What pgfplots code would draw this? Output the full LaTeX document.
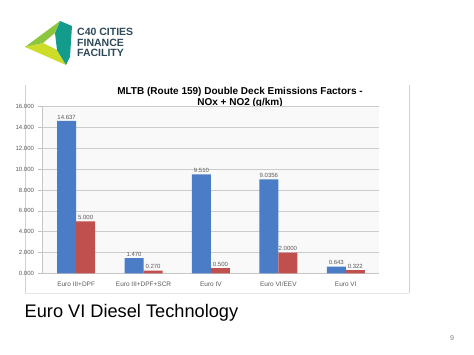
\documentclass[border=0pt]{standalone}
\usepackage{pgfplots}
\pgfplotsset{compat=1.18}
\usepackage{fontspec}
\setmainfont{Liberation Sans}
\definecolor{barblue}{HTML}{4A7DC6}
\definecolor{barred}{HTML}{C0504D}
\definecolor{logotext}{HTML}{2E4A5A}
\definecolor{lgreen}{HTML}{8CC63F}
\definecolor{lyellow}{HTML}{CDDC29}
\definecolor{lteal}{HTML}{139B8C}
\begin{document}
\begin{tikzpicture}[x=1pt,y=1pt]
\useasboundingbox (0,0) rectangle (474,355);
\fill[white] (0,0) rectangle (474,355);
% logo
\fill[lyellow] (25,308) -- (66,290) -- (57,305) -- (43,312) -- cycle;
\fill[lteal] (60,334) -- (72,329) -- (70,298) -- (66,290) -- (57,305) -- (55,322) -- cycle;
\fill[lgreen] (25,308) -- (60,334) -- (55,322) -- (43,312) -- cycle;
\node[anchor=west, text=logotext, font=\bfseries\fontsize{10.5}{10.5}\selectfont, align=left, inner sep=0] at (77,312.5) {C40 CITIES\\[-0.3pt]FINANCE\\[-0.3pt]FACILITY};
% chart panel
\draw[gray!35, line width=0.6pt] (25,62) -- (25,270);
\draw[gray!35, line width=0.6pt] (409,62) -- (409,270);
\draw[gray!20, line width=0.6pt] (25,62) -- (409,62);
% title
\node[font=\bfseries\fontsize{10}{11}\selectfont, align=center] at (240,257.5) {MLTB (Route 159) Double Deck Emissions Factors -\\NOx + NO2 (g/km)};
\begin{axis}[
  at={(63,78.3)}, anchor=south west, scale only axis,
  width=337pt, height=166.7pt,
  ymin=0, ymax=16, xmin=-0.5, xmax=4.5,
  ytick={0,2,...,16},
  xtick={0,...,4},
  xticklabels={Euro III+DPF, Euro III+DPF+SCR, Euro IV, Euro VI/EEV, Euro VI},
  ymajorgrids, grid style={gray!40, line width=0.5pt},
  axis line style={gray!45},
  axis x line*=bottom, axis y line*=left,
  tick align=outside, major tick length=4pt,
  ytick style={gray!50, line width=0.5pt},
  xtick style={draw=none},
  tick label style={text=gray!70!black},
  yticklabel style={font=\fontsize{6}{7}\selectfont, /pgf/number format/fixed, /pgf/number format/fixed zerofill, /pgf/number format/precision=3, /pgf/number format/assume math mode=true, xshift=-1pt},
  xticklabel style={font=\fontsize{6.5}{7}\selectfont, yshift=-1pt},
  axis background/.style={fill=gray!5},
  ybar, bar width=19pt,
  nodes near coords, point meta=explicit symbolic,
  every node near coord/.append style={font=\fontsize{6}{7}\selectfont, text=gray!70!black, inner sep=1.5pt},
]
\addplot[fill=barblue, draw=none, bar shift=-9.5pt] table[meta=l] {
x y l
0 14.637 14.637
1 1.470 1.470
2 9.510 9.510
3 9.0356 9.0356
4 0.643 0.643
};
\addplot[fill=barred, draw=none, bar shift=9.5pt] table[meta=l] {
x y l
0 5.000 5.000
1 0.270 0.270
2 0.500 0.500
3 2.0000 2.0000
4 0.322 0.322
};
\end{axis}
\node[anchor=base west, font=\fontsize{18.2}{18.2}\selectfont, inner sep=0] at (24.5,37) {Euro VI Diesel Technology};
\node[font=\fontsize{7}{7}\selectfont, text=gray] at (452,17) {9};
\end{tikzpicture}
\end{document}
